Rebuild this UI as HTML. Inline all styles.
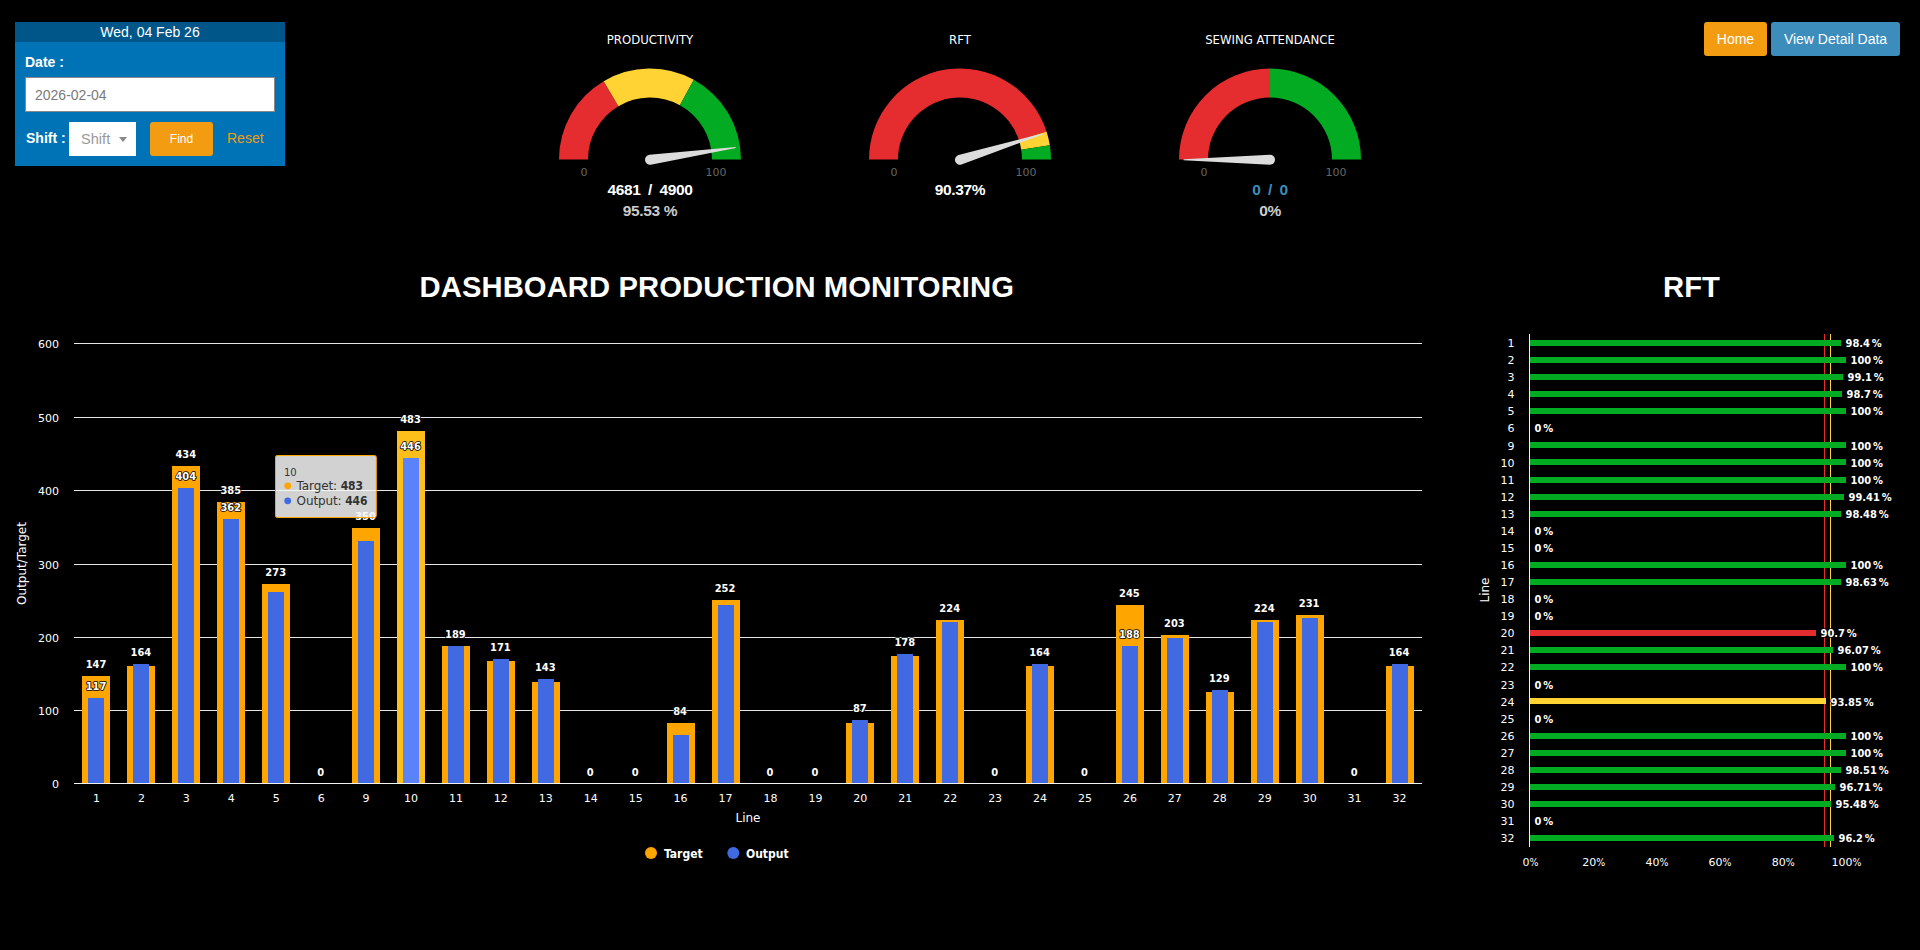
<!DOCTYPE html>
<html lang="en"><head><meta charset="utf-8"><title>Dashboard Production Monitoring</title>
<style>
html,body{margin:0;padding:0;background:#000;}
body{width:1920px;height:950px;overflow:hidden;position:relative;font-family:"Liberation Sans",Arial,sans-serif;font-size:14px;color:#fff;}
#chart{position:absolute;left:0;top:0;}
.ax{font:11px 'DejaVu Sans','Liberation Sans',sans-serif;fill:#fff;}
.at{font:12px 'DejaVu Sans','Liberation Sans',sans-serif;fill:#fff;}
.pc{font-family:'DejaVu Sans Condensed','DejaVu Sans','Liberation Sans',sans-serif;font-size:10.5px;}
.dl{font:bold 11px 'DejaVu Sans Condensed','DejaVu Sans','Liberation Sans',sans-serif;fill:#fff;stroke:#000;stroke-width:1.6px;stroke-linejoin:round;paint-order:stroke;}
.dl2{font:bold 11px 'DejaVu Sans Condensed','DejaVu Sans','Liberation Sans',sans-serif;word-spacing:-1.5px;fill:#fff;stroke:#000;stroke-width:1.5px;stroke-linejoin:round;paint-order:stroke;}
.lg{font:bold 12px 'DejaVu Sans Condensed','DejaVu Sans','Liberation Sans',sans-serif;fill:#fff;}
.tt{font:12px 'DejaVu Sans','Liberation Sans',sans-serif;fill:#333;letter-spacing:-0.12px;}
.ttb{font-weight:bold;font-family:'DejaVu Sans Condensed','DejaVu Sans','Liberation Sans',sans-serif;}
.gt{font:13px 'DejaVu Sans Condensed','DejaVu Sans','Liberation Sans',sans-serif;fill:#fff;}
.gl{font:11px 'DejaVu Sans','Liberation Sans',sans-serif;fill:#666;}
.gv{font:bold 15.5px "Liberation Sans",sans-serif;letter-spacing:-0.35px;}
.gw{word-spacing:3.5px;}
.box{position:absolute;left:15px;top:22px;width:270px;height:144px;background:#0073b7;}
.box .hd{height:20px;line-height:20px;background:#005689;text-align:center;font-size:14px;color:#fff;}
.box label{position:absolute;font-weight:bold;font-size:14px;color:#fff;}
.inp{position:absolute;left:10px;top:55px;width:250px;height:35px;box-sizing:border-box;background:#fff;border:1px solid #888;color:#7a7a7a;font-size:14px;line-height:34px;padding-left:9px;}
.sel{position:absolute;left:54px;top:100px;width:67px;height:34px;box-sizing:border-box;background:#fff;color:#999;font-size:14.6px;line-height:34px;padding-left:12px;}
.sel i{position:absolute;left:50px;top:15px;width:0;height:0;border-left:4px solid transparent;border-right:4px solid transparent;border-top:5px solid #888;}
.btn{position:absolute;box-sizing:border-box;border-radius:3px;color:#fff;text-align:center;}
.find{left:135px;top:100px;width:63px;height:34px;line-height:34px;background:#f39c12;font-size:12px;}
.reset{position:absolute;left:212px;top:108px;color:#f39c12;font-size:14px;}
.home{left:1704px;top:22px;width:63px;height:34px;line-height:34px;background:#f39c12;font-size:14px;}
.vdd{left:1771px;top:22px;width:129px;height:34px;line-height:34px;background:#3c8dbc;font-size:14px;}
h1{position:absolute;margin:0;font-weight:bold;font-size:29.2px;letter-spacing:0.1px;line-height:34px;white-space:nowrap;color:#fff;}
</style></head><body>
<div class="box"><div class="hd">Wed, 04 Feb 26</div>
<label style="left:10px;top:32px">Date :</label>
<div class="inp">2026-02-04</div>
<label style="left:11px;top:108px">Shift :</label>
<div class="sel">Shift<i></i></div>
<div class="btn find">Find</div>
<span class="reset">Reset</span>
</div>
<div class="btn home">Home</div><div class="btn vdd">View Detail Data</div>
<h1 style="left:419.6px;top:270px">DASHBOARD PRODUCTION MONITORING</h1>
<h1 style="left:1663px;top:270px">RFT</h1>
<svg id="chart" width="1920" height="950" viewBox="0 0 1920 950">
<rect x="74" y="343" width="1348" height="1" fill="#e6e6e6"/>
<rect x="74" y="417" width="1348" height="1" fill="#e6e6e6"/>
<rect x="74" y="490" width="1348" height="1" fill="#e6e6e6"/>
<rect x="74" y="564" width="1348" height="1" fill="#e6e6e6"/>
<rect x="74" y="637" width="1348" height="1" fill="#e6e6e6"/>
<rect x="74" y="710" width="1348" height="1" fill="#e6e6e6"/>
<rect x="82" y="676" width="28" height="107" fill="#ffa500"/>
<rect x="127" y="666" width="28" height="117" fill="#ffa500"/>
<rect x="172" y="466" width="28" height="317" fill="#ffa500"/>
<rect x="217" y="502" width="28" height="281" fill="#ffa500"/>
<rect x="262" y="584" width="28" height="199" fill="#ffa500"/>
<rect x="352" y="528" width="28" height="255" fill="#ffa500"/>
<rect x="397" y="431" width="28" height="352" fill="#ffbf1a"/>
<rect x="442" y="646" width="28" height="137" fill="#ffa500"/>
<rect x="487" y="661" width="28" height="122" fill="#ffa500"/>
<rect x="532" y="682" width="28" height="101" fill="#ffa500"/>
<rect x="667" y="723" width="28" height="60" fill="#ffa500"/>
<rect x="712" y="600" width="28" height="183" fill="#ffa500"/>
<rect x="846" y="723" width="28" height="60" fill="#ffa500"/>
<rect x="891" y="656" width="28" height="127" fill="#ffa500"/>
<rect x="936" y="620" width="28" height="163" fill="#ffa500"/>
<rect x="1026" y="666" width="28" height="117" fill="#ffa500"/>
<rect x="1116" y="605" width="28" height="178" fill="#ffa500"/>
<rect x="1161" y="635" width="28" height="148" fill="#ffa500"/>
<rect x="1206" y="692" width="28" height="91" fill="#ffa500"/>
<rect x="1251" y="620" width="28" height="163" fill="#ffa500"/>
<rect x="1296" y="615" width="28" height="168" fill="#ffa500"/>
<rect x="1386" y="666" width="28" height="117" fill="#ffa500"/>
<rect x="88" y="698" width="16" height="85" fill="#4169e1"/>
<rect x="133" y="664" width="16" height="119" fill="#4169e1"/>
<rect x="178" y="488" width="16" height="295" fill="#4169e1"/>
<rect x="223" y="519" width="16" height="264" fill="#4169e1"/>
<rect x="268" y="592" width="16" height="191" fill="#4169e1"/>
<rect x="358" y="541" width="16" height="242" fill="#4169e1"/>
<rect x="403" y="458" width="16" height="325" fill="#5a83fb"/>
<rect x="448" y="646" width="16" height="137" fill="#4169e1"/>
<rect x="493" y="659" width="16" height="124" fill="#4169e1"/>
<rect x="538" y="679" width="16" height="104" fill="#4169e1"/>
<rect x="673" y="735" width="16" height="48" fill="#4169e1"/>
<rect x="718" y="605" width="16" height="178" fill="#4169e1"/>
<rect x="852" y="720" width="16" height="63" fill="#4169e1"/>
<rect x="897" y="654" width="16" height="129" fill="#4169e1"/>
<rect x="942" y="622" width="16" height="161" fill="#4169e1"/>
<rect x="1032" y="664" width="16" height="119" fill="#4169e1"/>
<rect x="1122" y="646" width="16" height="137" fill="#4169e1"/>
<rect x="1167" y="638" width="16" height="145" fill="#4169e1"/>
<rect x="1212" y="690" width="16" height="93" fill="#4169e1"/>
<rect x="1257" y="622" width="16" height="161" fill="#4169e1"/>
<rect x="1302" y="618" width="16" height="165" fill="#4169e1"/>
<rect x="1392" y="664" width="16" height="119" fill="#4169e1"/>
<rect x="74" y="783" width="1348" height="1" fill="#f2f2f2"/>
<text x="59" y="347.5" text-anchor="end" class="ax">600</text>
<text x="59" y="421.5" text-anchor="end" class="ax">500</text>
<text x="59" y="494.5" text-anchor="end" class="ax">400</text>
<text x="59" y="568.5" text-anchor="end" class="ax">300</text>
<text x="59" y="641.5" text-anchor="end" class="ax">200</text>
<text x="59" y="714.5" text-anchor="end" class="ax">100</text>
<text x="59" y="787.5" text-anchor="end" class="ax">0</text>
<text x="96.47" y="802" text-anchor="middle" class="ax">1</text>
<text x="141.40" y="802" text-anchor="middle" class="ax">2</text>
<text x="186.33" y="802" text-anchor="middle" class="ax">3</text>
<text x="231.27" y="802" text-anchor="middle" class="ax">4</text>
<text x="276.20" y="802" text-anchor="middle" class="ax">5</text>
<text x="321.13" y="802" text-anchor="middle" class="ax">6</text>
<text x="366.07" y="802" text-anchor="middle" class="ax">9</text>
<text x="411.00" y="802" text-anchor="middle" class="ax">10</text>
<text x="455.93" y="802" text-anchor="middle" class="ax">11</text>
<text x="500.87" y="802" text-anchor="middle" class="ax">12</text>
<text x="545.80" y="802" text-anchor="middle" class="ax">13</text>
<text x="590.73" y="802" text-anchor="middle" class="ax">14</text>
<text x="635.67" y="802" text-anchor="middle" class="ax">15</text>
<text x="680.60" y="802" text-anchor="middle" class="ax">16</text>
<text x="725.53" y="802" text-anchor="middle" class="ax">17</text>
<text x="770.47" y="802" text-anchor="middle" class="ax">18</text>
<text x="815.40" y="802" text-anchor="middle" class="ax">19</text>
<text x="860.33" y="802" text-anchor="middle" class="ax">20</text>
<text x="905.27" y="802" text-anchor="middle" class="ax">21</text>
<text x="950.20" y="802" text-anchor="middle" class="ax">22</text>
<text x="995.13" y="802" text-anchor="middle" class="ax">23</text>
<text x="1040.07" y="802" text-anchor="middle" class="ax">24</text>
<text x="1085.00" y="802" text-anchor="middle" class="ax">25</text>
<text x="1129.93" y="802" text-anchor="middle" class="ax">26</text>
<text x="1174.87" y="802" text-anchor="middle" class="ax">27</text>
<text x="1219.80" y="802" text-anchor="middle" class="ax">28</text>
<text x="1264.73" y="802" text-anchor="middle" class="ax">29</text>
<text x="1309.67" y="802" text-anchor="middle" class="ax">30</text>
<text x="1354.60" y="802" text-anchor="middle" class="ax">31</text>
<text x="1399.53" y="802" text-anchor="middle" class="ax">32</text>
<text x="748" y="822" text-anchor="middle" class="at">Line</text>
<text transform="translate(26.3,563.5) rotate(-90)" text-anchor="middle" class="at">Output/Target</text>
<text x="95.97" y="668.2" text-anchor="middle" class="dl">147</text>
<text x="95.97" y="690.2" text-anchor="middle" class="dl">117</text>
<text x="140.90" y="656.2" text-anchor="middle" class="dl">164</text>
<text x="185.83" y="458.2" text-anchor="middle" class="dl">434</text>
<text x="185.83" y="480.2" text-anchor="middle" class="dl">404</text>
<text x="230.77" y="494.2" text-anchor="middle" class="dl">385</text>
<text x="230.77" y="511.2" text-anchor="middle" class="dl">362</text>
<text x="275.70" y="576.2" text-anchor="middle" class="dl">273</text>
<text x="320.63" y="776.2" text-anchor="middle" class="dl">0</text>
<text x="365.57" y="520.2" text-anchor="middle" class="dl">350</text>
<text x="410.50" y="423.2" text-anchor="middle" class="dl">483</text>
<text x="410.50" y="450.2" text-anchor="middle" class="dl">446</text>
<text x="455.43" y="638.2" text-anchor="middle" class="dl">189</text>
<text x="500.37" y="651.2" text-anchor="middle" class="dl">171</text>
<text x="545.30" y="671.2" text-anchor="middle" class="dl">143</text>
<text x="590.23" y="776.2" text-anchor="middle" class="dl">0</text>
<text x="635.17" y="776.2" text-anchor="middle" class="dl">0</text>
<text x="680.10" y="715.2" text-anchor="middle" class="dl">84</text>
<text x="725.03" y="592.2" text-anchor="middle" class="dl">252</text>
<text x="769.97" y="776.2" text-anchor="middle" class="dl">0</text>
<text x="814.90" y="776.2" text-anchor="middle" class="dl">0</text>
<text x="859.83" y="712.2" text-anchor="middle" class="dl">87</text>
<text x="904.77" y="646.2" text-anchor="middle" class="dl">178</text>
<text x="949.70" y="612.2" text-anchor="middle" class="dl">224</text>
<text x="994.63" y="776.2" text-anchor="middle" class="dl">0</text>
<text x="1039.57" y="656.2" text-anchor="middle" class="dl">164</text>
<text x="1084.50" y="776.2" text-anchor="middle" class="dl">0</text>
<text x="1129.43" y="597.2" text-anchor="middle" class="dl">245</text>
<text x="1129.43" y="638.2" text-anchor="middle" class="dl">188</text>
<text x="1174.37" y="627.2" text-anchor="middle" class="dl">203</text>
<text x="1219.30" y="682.2" text-anchor="middle" class="dl">129</text>
<text x="1264.23" y="612.2" text-anchor="middle" class="dl">224</text>
<text x="1309.17" y="607.2" text-anchor="middle" class="dl">231</text>
<text x="1354.10" y="776.2" text-anchor="middle" class="dl">0</text>
<text x="1399.03" y="656.2" text-anchor="middle" class="dl">164</text>
<circle cx="651" cy="853" r="6" fill="#ffa500"/><text x="664" y="858" class="lg">Target</text>
<circle cx="733.3" cy="853" r="6" fill="#4169e1"/><text x="746" y="858" class="lg">Output</text>
<g><rect x="275.5" y="455.5" width="100.8" height="62" rx="1.8" ry="1.8" fill="#f7f7f7" fill-opacity="0.85" stroke="#ffa500" stroke-width="1"/><text x="284" y="475.6" class="tt" style="font-size:10px">10</text><circle cx="287.7" cy="485.8" r="3.4" fill="#ffa500"/><text x="296.6" y="489.8" class="tt">Target: <tspan class="ttb">483</tspan></text><circle cx="287.7" cy="500.8" r="3.4" fill="#4169e1"/><text x="296.6" y="504.8" class="tt">Output: <tspan class="ttb">446</tspan></text></g>
<rect x="1824" y="334" width="1" height="513" fill="#e52d30"/><rect x="1830" y="334" width="1" height="513" fill="#ffd333"/>
<rect x="1530" y="340" width="311" height="6" fill="#03ab23"/>
<text x="1845.5" y="347.1" class="dl2">98.4 %</text>
<text x="1514.5" y="347.1" text-anchor="end" class="ax">1</text>
<rect x="1530" y="357" width="316" height="6" fill="#03ab23"/>
<text x="1850.5" y="364.2" class="dl2">100 %</text>
<text x="1514.5" y="364.2" text-anchor="end" class="ax">2</text>
<rect x="1530" y="374" width="313" height="6" fill="#03ab23"/>
<text x="1847.5" y="381.2" class="dl2">99.1 %</text>
<text x="1514.5" y="381.2" text-anchor="end" class="ax">3</text>
<rect x="1530" y="391" width="312" height="6" fill="#03ab23"/>
<text x="1846.5" y="398.3" class="dl2">98.7 %</text>
<text x="1514.5" y="398.3" text-anchor="end" class="ax">4</text>
<rect x="1530" y="408" width="316" height="6" fill="#03ab23"/>
<text x="1850.5" y="415.4" class="dl2">100 %</text>
<text x="1514.5" y="415.4" text-anchor="end" class="ax">5</text>
<text x="1534.5" y="432.4" class="dl2">0 %</text>
<text x="1514.5" y="432.4" text-anchor="end" class="ax">6</text>
<rect x="1530" y="442" width="316" height="6" fill="#03ab23"/>
<text x="1850.5" y="449.5" class="dl2">100 %</text>
<text x="1514.5" y="449.5" text-anchor="end" class="ax">9</text>
<rect x="1530" y="459" width="316" height="6" fill="#03ab23"/>
<text x="1850.5" y="466.6" class="dl2">100 %</text>
<text x="1514.5" y="466.6" text-anchor="end" class="ax">10</text>
<rect x="1530" y="477" width="316" height="6" fill="#03ab23"/>
<text x="1850.5" y="483.7" class="dl2">100 %</text>
<text x="1514.5" y="483.7" text-anchor="end" class="ax">11</text>
<rect x="1530" y="494" width="314" height="6" fill="#03ab23"/>
<text x="1848.5" y="500.7" class="dl2">99.41 %</text>
<text x="1514.5" y="500.7" text-anchor="end" class="ax">12</text>
<rect x="1530" y="511" width="311" height="6" fill="#03ab23"/>
<text x="1845.5" y="517.8" class="dl2">98.48 %</text>
<text x="1514.5" y="517.8" text-anchor="end" class="ax">13</text>
<text x="1534.5" y="534.9" class="dl2">0 %</text>
<text x="1514.5" y="534.9" text-anchor="end" class="ax">14</text>
<text x="1534.5" y="551.9" class="dl2">0 %</text>
<text x="1514.5" y="551.9" text-anchor="end" class="ax">15</text>
<rect x="1530" y="562" width="316" height="6" fill="#03ab23"/>
<text x="1850.5" y="569.0" class="dl2">100 %</text>
<text x="1514.5" y="569.0" text-anchor="end" class="ax">16</text>
<rect x="1530" y="579" width="311" height="6" fill="#03ab23"/>
<text x="1845.5" y="586.1" class="dl2">98.63 %</text>
<text x="1514.5" y="586.1" text-anchor="end" class="ax">17</text>
<text x="1534.5" y="603.1" class="dl2">0 %</text>
<text x="1514.5" y="603.1" text-anchor="end" class="ax">18</text>
<text x="1534.5" y="620.2" class="dl2">0 %</text>
<text x="1514.5" y="620.2" text-anchor="end" class="ax">19</text>
<rect x="1530" y="630" width="286" height="6" fill="#e52d30"/>
<text x="1820.5" y="637.3" class="dl2">90.7 %</text>
<text x="1514.5" y="637.3" text-anchor="end" class="ax">20</text>
<rect x="1530" y="647" width="303" height="6" fill="#03ab23"/>
<text x="1837.5" y="654.3" class="dl2">96.07 %</text>
<text x="1514.5" y="654.3" text-anchor="end" class="ax">21</text>
<rect x="1530" y="664" width="316" height="6" fill="#03ab23"/>
<text x="1850.5" y="671.4" class="dl2">100 %</text>
<text x="1514.5" y="671.4" text-anchor="end" class="ax">22</text>
<text x="1534.5" y="688.5" class="dl2">0 %</text>
<text x="1514.5" y="688.5" text-anchor="end" class="ax">23</text>
<rect x="1530" y="698" width="296" height="6" fill="#ffd333"/>
<text x="1830.5" y="705.5" class="dl2">93.85 %</text>
<text x="1514.5" y="705.5" text-anchor="end" class="ax">24</text>
<text x="1534.5" y="722.6" class="dl2">0 %</text>
<text x="1514.5" y="722.6" text-anchor="end" class="ax">25</text>
<rect x="1530" y="733" width="316" height="6" fill="#03ab23"/>
<text x="1850.5" y="739.7" class="dl2">100 %</text>
<text x="1514.5" y="739.7" text-anchor="end" class="ax">26</text>
<rect x="1530" y="750" width="316" height="6" fill="#03ab23"/>
<text x="1850.5" y="756.8" class="dl2">100 %</text>
<text x="1514.5" y="756.8" text-anchor="end" class="ax">27</text>
<rect x="1530" y="767" width="311" height="6" fill="#03ab23"/>
<text x="1845.5" y="773.8" class="dl2">98.51 %</text>
<text x="1514.5" y="773.8" text-anchor="end" class="ax">28</text>
<rect x="1530" y="784" width="305" height="6" fill="#03ab23"/>
<text x="1839.5" y="790.9" class="dl2">96.71 %</text>
<text x="1514.5" y="790.9" text-anchor="end" class="ax">29</text>
<rect x="1530" y="801" width="301" height="6" fill="#03ab23"/>
<text x="1835.5" y="808.0" class="dl2">95.48 %</text>
<text x="1514.5" y="808.0" text-anchor="end" class="ax">30</text>
<text x="1534.5" y="825.0" class="dl2">0 %</text>
<text x="1514.5" y="825.0" text-anchor="end" class="ax">31</text>
<rect x="1530" y="835" width="304" height="6" fill="#03ab23"/>
<text x="1838.5" y="842.1" class="dl2">96.2 %</text>
<text x="1514.5" y="842.1" text-anchor="end" class="ax">32</text>
<rect x="1529" y="334" width="1" height="513" fill="#f2f2f2"/>
<text x="1530.5" y="866" text-anchor="middle" class="ax">0<tspan class="pc">%</tspan></text>
<text x="1593.7" y="866" text-anchor="middle" class="ax">20<tspan class="pc">%</tspan></text>
<text x="1656.9" y="866" text-anchor="middle" class="ax">40<tspan class="pc">%</tspan></text>
<text x="1720.1" y="866" text-anchor="middle" class="ax">60<tspan class="pc">%</tspan></text>
<text x="1783.3" y="866" text-anchor="middle" class="ax">80<tspan class="pc">%</tspan></text>
<text x="1846.5" y="866" text-anchor="middle" class="ax">100<tspan class="pc">%</tspan></text>
<text transform="translate(1489,590) rotate(-90)" text-anchor="middle" class="at">Line</text>
<text x="650" y="44" text-anchor="middle" class="gt">PRODUCTIVITY</text>
<path d="M559.00,159.50 A91,91 0 0 1 603.68,81.17 L618.44,106.13 A62,62 0 0 0 588.00,159.50 Z" fill="#e52d30"/>
<path d="M603.68,81.17 A91,91 0 0 1 693.84,79.76 L679.87,105.17 A62,62 0 0 0 618.44,106.13 Z" fill="#ffd333"/>
<path d="M693.84,79.76 A91,91 0 0 1 741.00,159.50 L712.00,159.50 A62,62 0 0 0 679.87,105.17 Z" fill="#03ab23"/>
<text x="584" y="176" text-anchor="middle" class="gl">0</text><text x="716" y="176" text-anchor="middle" class="gl">100</text>
<g transform="translate(650,159.7) rotate(-8.05)"><path d="M0,-5 L86.5,-0.5 L86.5,0.5 L0,5 A5,5 0 0 1 0,-5 Z" fill="#dcdcdc"/></g>
<text x="650" y="194.8" text-anchor="middle" class="gv gw" fill="#fff">4681 / 4900</text>
<text x="650" y="215.8" text-anchor="middle" class="gv" fill="#cccccc">95.53 %</text>
<text x="960" y="44" text-anchor="middle" class="gt">RFT</text>
<path d="M869.00,159.50 A91,91 0 0 1 1046.55,131.38 L1018.97,140.34 A62,62 0 0 0 898.00,159.50 Z" fill="#e52d30"/>
<path d="M1046.55,131.38 A91,91 0 0 1 1049.88,145.26 L1021.24,149.80 A62,62 0 0 0 1018.97,140.34 Z" fill="#ffd333"/>
<path d="M1049.88,145.26 A91,91 0 0 1 1051.00,159.50 L1022.00,159.50 A62,62 0 0 0 1021.24,149.80 Z" fill="#03ab23"/>
<text x="894" y="176" text-anchor="middle" class="gl">0</text><text x="1026" y="176" text-anchor="middle" class="gl">100</text>
<g transform="translate(960,159.7) rotate(-17.33)"><path d="M0,-5 L86.5,-0.5 L86.5,0.5 L0,5 A5,5 0 0 1 0,-5 Z" fill="#dcdcdc"/></g>
<text x="960" y="194.8" text-anchor="middle" class="gv gw" fill="#fff">90.37%</text>
<text x="1270" y="44" text-anchor="middle" class="gt">SEWING ATTENDANCE</text>
<path d="M1179.00,159.50 A91,91 0 0 1 1270.00,68.50 L1270.00,97.50 A62,62 0 0 0 1208.00,159.50 Z" fill="#e52d30"/>
<path d="M1270.00,68.50 A91,91 0 0 1 1361.00,159.50 L1332.00,159.50 A62,62 0 0 0 1270.00,97.50 Z" fill="#03ab23"/>
<text x="1204" y="176" text-anchor="middle" class="gl">0</text><text x="1336" y="176" text-anchor="middle" class="gl">100</text>
<g transform="translate(1270,159.7) rotate(-180.00)"><path d="M0,-5 L86.5,-0.5 L86.5,0.5 L0,5 A5,5 0 0 1 0,-5 Z" fill="#dcdcdc"/></g>
<text x="1270" y="194.8" text-anchor="middle" class="gv gw" fill="#3c8dbc">0 / 0</text>
<text x="1270" y="215.8" text-anchor="middle" class="gv" fill="#cccccc">0%</text>
</svg>
</body></html>
